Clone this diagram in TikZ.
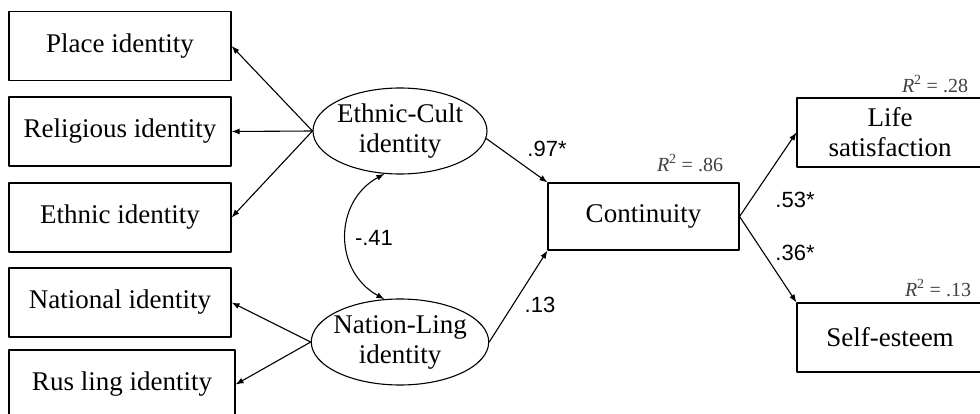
\documentclass[tikz,border=0pt]{standalone}
\usepackage{fontspec}
\setmainfont{Liberation Serif}
\newfontfamily\numfont{Liberation Sans}
\usetikzlibrary{arrows.meta,shapes.geometric}

\begin{document}
\begin{tikzpicture}[line cap=round,line join=round,>={Latex[length=8pt,width=6pt]},x=1pt,y=-1pt,
  line width=1.1pt,
  obs/.style={draw,rectangle,inner sep=0pt,minimum width=222pt,minimum height=69pt,font=\fontsize{27}{30}\selectfont,align=center},
  lat/.style={draw,ellipse,inner sep=-4pt,minimum width=174pt,minimum height=86pt,font=\fontsize{27}{30}\selectfont,align=center},
  coef/.style={font=\numfont\fontsize{22}{24}\selectfont,inner sep=0pt},
  rsq/.style={font=\fontsize{20}{22}\selectfont,inner sep=0pt,text=black!75}]
\useasboundingbox (0,0) rectangle (980,414);
\clip (0,0) rectangle (980,414);
\node[obs] (place) at (120,46) {Place identity};
\node[obs] (relig) at (120,131.5) {Religious identity};
\node[obs] (ethnic) at (120,217.5) {Ethnic identity};
\node[obs] (nation) at (120,302.5) {National identity};
\node[obs,minimum width=226pt] (rusling) at (122,384.5) {Rus ling identity};
\node[lat] (ethcult) at (400,131) {Ethnic-Cult\\identity};
\node[lat] (natling) at (400,342) {Nation-Ling\\identity};
\node[obs,minimum width=191pt,minimum height=67pt] (contin) at (643.5,216.5) {Continuity};
\node[obs,minimum width=186pt] (lifesat) at (890,132.5) {Life\\satisfaction};
\node[obs,minimum width=186pt] (selfest) at (890,337.5) {Self-esteem};
\draw[->] (ethcult.west) -- (place.east);
\draw[->] (ethcult.west) -- (relig.east);
\draw[->] (ethcult.west) -- (ethnic.east);
\draw[->] (natling.west) -- (nation.east);
\draw[->] (natling.west) -- (rusling.east);
\draw[->] (ethcult.-5) -- (contin.north west);
\draw[->] (natling.east) -- (contin.south west);
\draw[->] (contin.east) -- (lifesat.west);
\draw[->] (contin.east) -- (selfest.north west);
\draw[<->] (ethcult.250) .. controls +(-51,28) and +(-51,-28) .. (natling.110);
\node[coef] (b1) at (547,149) {.97*};
\node[coef] (b2) at (540,305) {.13};
\node[coef] (b3) at (795,200) {.53*};
\node[coef] (b4) at (795,253) {.36*};
\node[coef] (cov) at (374,238) {-.41};
\node[rsq] (r2c) at (690,163) {\textit{R}\textsuperscript{2} = .86};
\node[rsq] (r2l) at (935,84) {\textit{R}\textsuperscript{2} = .28};
\node[rsq] (r2s) at (938,288) {\textit{R}\textsuperscript{2} = .13};
\end{tikzpicture}
\end{document}
